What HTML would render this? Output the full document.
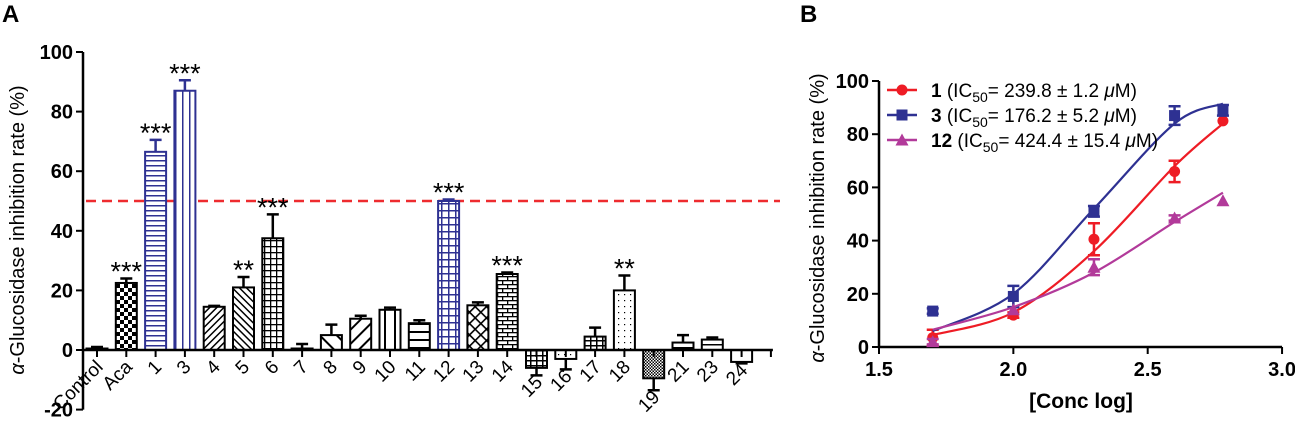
<!DOCTYPE html>
<html><head><meta charset="utf-8"><style>
html,body{margin:0;padding:0;background:#fff;}
svg{display:block;font-family:"Liberation Sans",Arial,sans-serif;}
</style></head><body>
<svg id="fig" width="1295" height="433" viewBox="0 0 1295 433" xmlns="http://www.w3.org/2000/svg">
<defs>
<pattern id="p-check" width="8" height="8" patternUnits="userSpaceOnUse"><rect width="8" height="8" fill="#fff"/><rect width="4" height="4" fill="#000"/><rect x="4" y="4" width="4" height="4" fill="#000"/></pattern>
<pattern id="p-hline-b" width="6" height="5" patternUnits="userSpaceOnUse"><rect width="6" height="5" fill="#fff"/><rect y="0" width="6" height="1.5" fill="#2e3192"/></pattern>
<pattern id="p-vline-b" width="7" height="6" patternUnits="userSpaceOnUse"><rect width="7" height="6" fill="#fff"/><rect x="0" width="1.5" height="6" fill="#2e3192"/></pattern>
<pattern id="p-diag1" width="5" height="5" patternUnits="userSpaceOnUse" patternTransform="rotate(45)"><rect width="5" height="5" fill="#fff"/><rect width="1.5" height="5" fill="#000"/></pattern>
<pattern id="p-diag2" width="5" height="5" patternUnits="userSpaceOnUse" patternTransform="rotate(-45)"><rect width="5" height="5" fill="#fff"/><rect width="1.5" height="5" fill="#000"/></pattern>
<pattern id="p-grid" width="6" height="6" patternUnits="userSpaceOnUse"><rect width="6" height="6" fill="#fff"/><rect width="6" height="1.3" fill="#000"/><rect width="1.3" height="6" fill="#000"/></pattern>
<pattern id="p-grid-b" width="7" height="7" patternUnits="userSpaceOnUse"><rect width="7" height="7" fill="#fff"/><rect width="7" height="1.5" fill="#2e3192"/><rect width="1.5" height="7" fill="#2e3192"/></pattern>
<pattern id="p-bigdiag2" width="12" height="12" patternUnits="userSpaceOnUse" patternTransform="rotate(-45)"><rect width="12" height="12" fill="#fff"/><rect width="2" height="12" fill="#000"/></pattern>
<pattern id="p-bigdiag1" width="10" height="10" patternUnits="userSpaceOnUse" patternTransform="rotate(45)"><rect width="10" height="10" fill="#fff"/><rect width="2" height="10" fill="#000"/></pattern>
<pattern id="p-vwide" width="10" height="10" patternUnits="userSpaceOnUse"><rect width="10" height="10" fill="#fff"/><rect x="4" width="2" height="10" fill="#000"/></pattern>
<pattern id="p-hwide" width="10" height="8" patternUnits="userSpaceOnUse"><rect width="10" height="8" fill="#fff"/><rect y="3" width="10" height="2" fill="#000"/></pattern>
<pattern id="p-cross" width="8" height="8" patternUnits="userSpaceOnUse" patternTransform="rotate(45)"><rect width="8" height="8" fill="#fff"/><rect width="1.6" height="8" fill="#000"/><rect width="8" height="1.6" fill="#000"/></pattern>
<pattern id="p-brick" width="10" height="8" patternUnits="userSpaceOnUse"><rect width="10" height="8" fill="#fff"/><rect width="10" height="1.3" fill="#000"/><rect y="4" width="10" height="1.3" fill="#000"/><rect x="2" width="1.3" height="4" fill="#000"/><rect x="7" y="4" width="1.3" height="4" fill="#000"/></pattern>
<pattern id="p-sbrick" width="6" height="5" patternUnits="userSpaceOnUse"><rect width="6" height="5" fill="#fff"/><rect width="6" height="1.5" fill="#000"/><rect x="2" width="1.5" height="5" fill="#000"/></pattern>
<pattern id="p-sdots" width="6" height="6" patternUnits="userSpaceOnUse"><rect width="6" height="6" fill="#fff"/><rect width="1.2" height="1.2" fill="#000"/></pattern>
<pattern id="p-dense" width="3" height="3" patternUnits="userSpaceOnUse"><rect width="3" height="3" fill="#fff"/><rect width="1.5" height="1.5" fill="#000"/><rect x="1.5" y="1.5" width="1.5" height="1.5" fill="#000"/></pattern>
<pattern id="p-hline" width="6" height="6" patternUnits="userSpaceOnUse"><rect width="6" height="6" fill="#fff"/><rect y="2" width="6" height="1.5" fill="#000"/></pattern>
</defs>
<text x="2" y="22" font-size="24" font-weight="bold">A</text>
<text x="800" y="22" font-size="24" font-weight="bold">B</text>
<g id="gA"></g>
<g id="gB"></g>
</svg>
<script>
// ---------- Panel A data ----------
const catsA = ["Control","Aca","1","3","4","5","6","7","8","9","10","11","12","13","14","15","16","17","18","19","21","23","24"];
const valsA = [0.5,22.5,66.5,87,14.5,21,37.5,0.5,5,10.5,13.5,9,50,15,25.5,-6,-3,4.5,20,-9.5,2.5,3.5,-4];
const errsA = [0.5,1.5,4,3.5,0.3,3.5,8,1.5,3.5,1,0.7,1,0.5,1,0.5,2.5,3.5,3,5,4,2.5,0.7,0.5];
const starsA = ["","***","***","***","","**","***","","","","","","***","","***","","","","**","","","",""];
const fillsA = ["#fff","url(#p-check)","url(#p-hline-b)","url(#p-vline-b)","url(#p-diag1)","url(#p-diag2)","url(#p-grid)","#fff","url(#p-bigdiag2)","url(#p-bigdiag1)","url(#p-vwide)","url(#p-hwide)","url(#p-grid-b)","url(#p-cross)","url(#p-brick)","url(#p-sbrick)","url(#p-sdots)","url(#p-sbrick)","url(#p-sdots)","url(#p-dense)","url(#p-hwide)","url(#p-hline)","#fff"];
const blueA = ["1","3","12"];
const ticksA = [-20,0,20,40,60,80,100];
const refLineA = 50;

// ---------- Panel B data ----------
const xB = [1.7,2.0,2.3,2.6,2.78];
const s1 = [3.5,12,40.5,66,85];
const e1 = [3,1,6,4,0.5];
const s3 = [13.5,19,51,87,89];
const e3 = [1,4,2,3.5,2];
const s12 = [2,14,30,48.5,55];
const e12 = [1,0.5,3,1,0.5];
const fit1 = [4.5,13,36,68,84];
const fit3 = [6,20,52,84,91.5];
const fit12 = [6.5,15,28,47,58];
const xTicksB = [1.5,2.0,2.5,3.0];
const yTicksB = [0,20,40,60,80,100];
const legendB = [["1","239.8 ± 1.2"],["3","176.2 ± 5.2"],["12","424.4 ± 15.4"]];

const NS="http://www.w3.org/2000/svg";
function mk(parent,tag,attrs,text){const e=document.createElementNS(NS,tag);for(const k in attrs)e.setAttribute(k,attrs[k]);if(text!==undefined)e.textContent=text;parent.appendChild(e);return e;}

// ---------- Panel A ----------
(function(){
const g=document.getElementById('gA');
const x0=83, step=29.3, first=97, bw=21;
const yA=v=>350-v*2.98;
const xA=i=>first+i*step;
const rl=mk(g,'line',{x1:86,x2:780,y1:yA(refLineA),y2:yA(refLineA),stroke:'#ee2b2f','stroke-width':2.5,'stroke-dasharray':'10,6'});


catsA.forEach((c,i)=>{
 const v=valsA[i], cx=xA(i), col=blueA.includes(c)?'#2e3192':'#000';
 const top=Math.min(yA(v),yA(0)), h=Math.abs(yA(v)-yA(0));
 const bar=mk(g,'rect',{x:cx-bw/2,y:top,width:bw,height:Math.max(h,1),fill:fillsA[i],stroke:col,'stroke-width':2});
 
 
 const ev=v>=0?v+errsA[i]:v-errsA[i];
 const eb=mk(g,'path',{d:`M${cx} ${yA(v)}V${yA(ev)}M${cx-6} ${yA(ev)}H${cx+6}`,stroke:col,'stroke-width':2.5,fill:'none'});
 
 
 if(starsA[i]){
  const st=mk(g,'text',{x:cx,y:yA(v+errsA[i])+2,'font-size':27,'text-anchor':'middle'},starsA[i]);
  
  
 }
 const tk=mk(g,'line',{x1:cx,x2:cx,y1:350,y2:357,stroke:'#000','stroke-width':2});
 
 
 const ly=v<0?Math.max(368,yA(ev)+8):368;
 const lb=mk(g,'text',{x:cx+7,y:ly,'font-size':19,'text-anchor':'end',transform:`rotate(-45 ${cx+7} ${ly})`},c);
 
 
});
const tk2=mk(g,'line',{x1:xA(catsA.length),x2:xA(catsA.length),y1:350,y2:357,stroke:'#000','stroke-width':2});


const ax=mk(g,'path',{d:`M${x0} ${yA(100)}V${yA(-20)}M${x0} 350H${xA(catsA.length)+2}`,stroke:'#000','stroke-width':2.5,fill:'none'});


ticksA.forEach(t=>{
 const l=mk(g,'line',{x1:x0-7,x2:x0,y1:yA(t),y2:yA(t),stroke:'#000','stroke-width':2});
 
 
 const tx=mk(g,'text',{x:x0-10,y:yA(t)+7,'font-size':20,'font-weight':'bold','text-anchor':'end'},String(t));
 
 
});
const yt=mk(g,'text',{x:24,y:230,'font-size':20,'text-anchor':'middle',transform:'rotate(-90 24 230)'});


mk(yt,'tspan',{'font-style':'italic'},'α');
mk(yt,'tspan',{},'-Glucosidase inhibition rate (%)');
})();

// ---------- Panel B ----------
(function(){
const g=document.getElementById('gB');
const X=v=>879+(v-1.5)*268.7;
const Y=v=>347-v*2.66;
const ax=mk(g,'path',{d:`M${X(1.5)} ${Y(100)}V${Y(0)}H${X(3.0)}`,stroke:'#000','stroke-width':2.5,fill:'none'});


xTicksB.forEach(t=>{
 const l=mk(g,'line',{x1:X(t),x2:X(t),y1:Y(0),y2:Y(0)+7,stroke:'#000','stroke-width':2});
 
 
 const tx=mk(g,'text',{x:X(t),y:Y(0)+29,'font-size':20,'font-weight':'bold','text-anchor':'middle'},t.toFixed(1));
 
 
});
yTicksB.forEach(t=>{
 const l=mk(g,'line',{x1:X(1.5)-7,x2:X(1.5),y1:Y(t),y2:Y(t),stroke:'#000','stroke-width':2});
 
 
 const tx=mk(g,'text',{x:X(1.5)-10,y:Y(t)+7,'font-size':20,'font-weight':'bold','text-anchor':'end'},String(t));
 
 
});
const xt=mk(g,'text',{x:1081,y:408,'font-size':21,'font-weight':'bold','text-anchor':'middle'},'[Conc log]');


const yt=mk(g,'text',{x:824,y:218,'font-size':20,'text-anchor':'middle',transform:'rotate(-90 824 218)'});


mk(yt,'tspan',{'font-style':'italic'},'α');
mk(yt,'tspan',{},'-Glucosidase inhibition rate (%)');

function spline(ys){
 const p=xB.map((x,i)=>[X(x),Y(ys[i])]);
 let d=`M${p[0][0]} ${p[0][1]}`;
 for(let i=0;i<p.length-1;i++){
  const p0=p[i-1]||p[i],p1=p[i],p2=p[i+1],p3=p[i+2]||p[i+1];
  const c1=[p1[0]+(p2[0]-p0[0])/6,p1[1]+(p2[1]-p0[1])/6];
  const c2=[p2[0]-(p3[0]-p1[0])/6,p2[1]-(p3[1]-p1[1])/6];
  d+=`C${c1[0]} ${c1[1]} ${c2[0]} ${c2[1]} ${p2[0]} ${p2[1]}`;
 }
 return d;
}
const series=[[s1,e1,fit1,'#ee1c25','circle','1'],[s3,e3,fit3,'#2e3192','square','3'],[s12,e12,fit12,'#b23a9a','triangle','12']];
function marker(parent,shape,cx,cy,col,r){
 if(shape==='circle') return mk(parent,'circle',{cx,cy,r:r,fill:col});
 if(shape==='square') return mk(parent,'rect',{x:cx-r,y:cy-r,width:2*r,height:2*r,fill:col});
 return mk(parent,'path',{d:`M${cx} ${cy-r-1}L${cx+r+1} ${cy+r}L${cx-r-1} ${cy+r}Z`,fill:col});
}
series.forEach(([s,e,f,col,shape,name])=>{
 const c=mk(g,'path',{d:spline(f),stroke:col,'stroke-width':2.2,fill:'none'});
 
 
 xB.forEach((x,i)=>{
  const cx=X(x);
  if(e[i]>0.8){
   const eb=mk(g,'path',{d:`M${cx} ${Y(s[i]-e[i])}V${Y(s[i]+e[i])}M${cx-6} ${Y(s[i]-e[i])}H${cx+6}M${cx-6} ${Y(s[i]+e[i])}H${cx+6}`,stroke:col,'stroke-width':2.5,fill:'none'});
   
   
  }
  const m=marker(g,shape,cx,Y(s[i]),col,5.5);
  
  
 });
});
legendB.forEach(([n,ic],i)=>{
 const col=series[i][3], y=90+i*25;
 const lg=mk(g,'g',{});
 
 
 mk(lg,'line',{x1:887,x2:917,y1:y,y2:y,stroke:col,'stroke-width':2.5});
 marker(lg,series[i][4],902,y,col,5.5);
 const t=mk(lg,'text',{x:931,y:y+7,'font-size':19});
 mk(t,'tspan',{'font-weight':'bold'},n);
 mk(t,'tspan',{},' (IC');
 mk(t,'tspan',{'font-size':14,dy:5},'50');
 mk(t,'tspan',{dy:-5},'= '+ic+' ');
 mk(t,'tspan',{'font-style':'italic'},'μ');
 mk(t,'tspan',{},'M)');
});
})();
</script>
</body></html>
